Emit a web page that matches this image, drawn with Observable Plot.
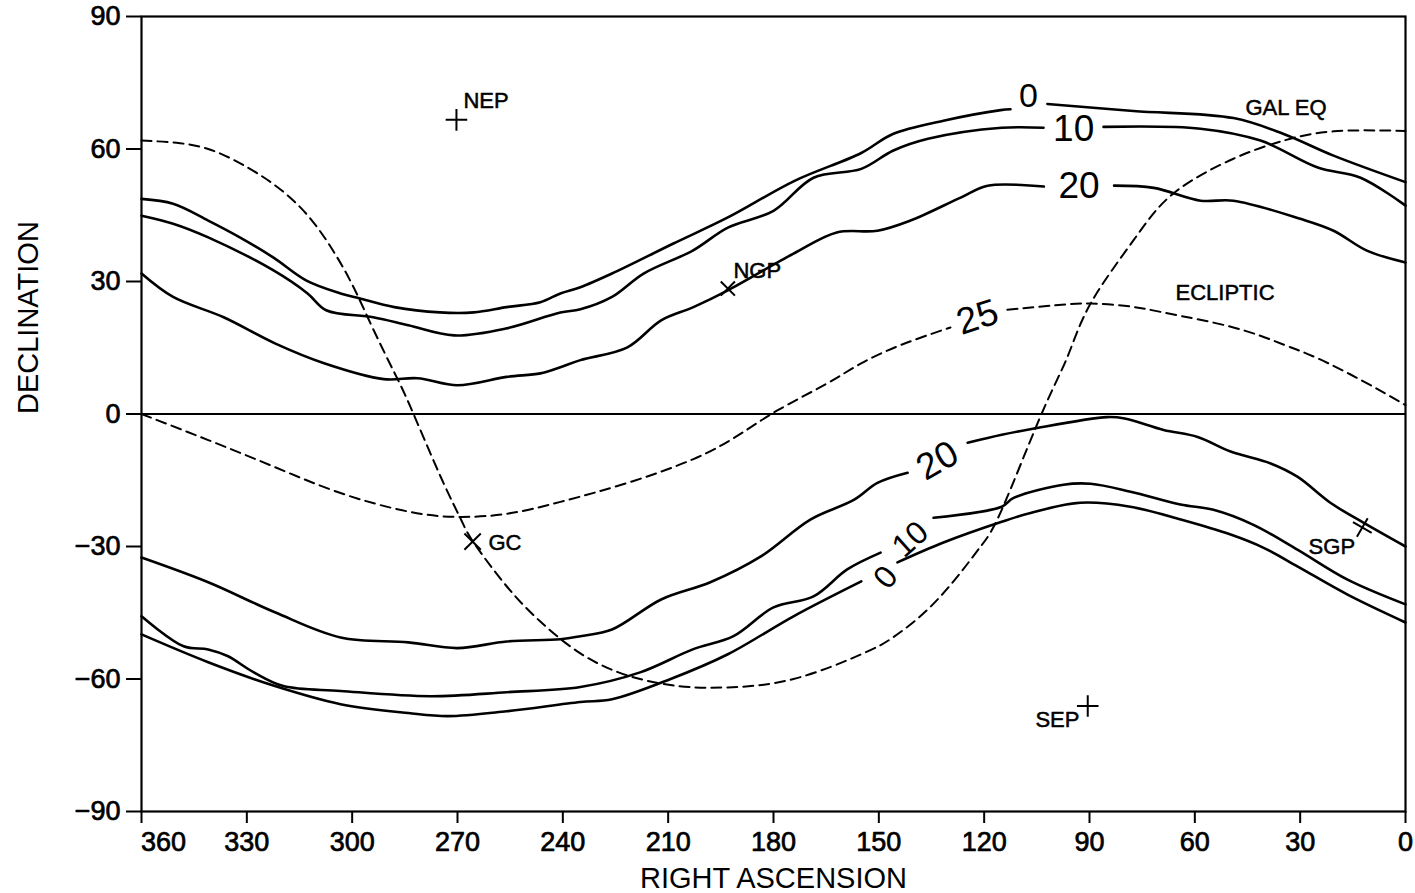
<!DOCTYPE html>
<html>
<head>
<meta charset="utf-8">
<script src="https://cdn.jsdelivr.net/npm/d3@7"></script>
<script src="https://cdn.jsdelivr.net/npm/@observablehq/plot@0.6"></script>
<style>
  html, body { margin: 0; padding: 0; background: #fff; }
  #chart { width: 1415px; height: 893px; }
</style>
</head>
<body>
<div id="chart"></div>
<script>
// ---- axis ticks ----
const raTicks = [360, 330, 300, 270, 240, 210, 180, 150, 120, 90, 60, 30, 0];
const decTicks = [90, 60, 30, 0, -30, -60, -90];

// ---- contour lines [RA, Dec]; NaN = gap where the label sits ----
const north0 = [[360,48.7],[351,47.6],[341,43.8],[332,40.0],[322.4,35.4],[313,30.2],[303.3,27.3],[298,26.2],[288,24.2],[275,23.0],[265.4,23.0],[256,24.2],[246.4,25.3],[240.7,27.3],[235,28.7],[226,31.8],[208.5,38.6],[193,44.5],[174,52.8],[155,59.1],[146,63.4],[131.6,66.4],[115.3,68.8],[112.5,69.0],[107,NaN],[102,70.2],[77.5,68.6],[49,67.0],[34.7,63.4],[20.5,58.5],[0,52.5]];
const north10 = [[360,44.9],[351,43.1],[341,40.0],[322.4,32.5],[312.7,27.3],[307.4,23.5],[294,21.9],[284,20.1],[271,17.8],[256,19.4],[240.7,23.0],[235,23.7],[226,26.5],[217,31.8],[203,37.0],[193,42.2],[180,46.0],[168.6,53.5],[155,55.5],[146,59.6],[136,62.3],[115,64.8],[103.1,64.8],[94.5,NaN],[86,65.0],[58.4,64.6],[41.3,61.9],[25,55.8],[12.8,53.5],[0,47.2]];
const north20 = [[360,31.8],[351,26.5],[336.6,21.9],[322,16.0],[308,11.5],[291,7.9],[281.4,8.1],[270,6.5],[256,8.4],[246.4,9.2],[240.7,10.6],[235,12.2],[221.6,15.1],[212,21.2],[202.8,24.2],[193,28.0],[174.3,36.3],[162,41.1],[150.4,41.5],[141,43.8],[126.7,49.0],[119,51.7],[103,51.5],[93,NaN],[83,51.7],[71.7,51.2],[58.4,48.3],[49,48.3],[30,44.2],[20.5,41.5],[11,37.0],[0,34.3]];
const south20 = [[360,-32.5],[341,-38.1],[322,-44.9],[303.3,-50.6],[284,-51.7],[270,-53.0],[256,-51.5],[240.7,-51.0],[235,-50.3],[226,-48.8],[212,-42.0],[198,-38.1],[183.7,-32.3],[169.5,-23.9],[157,-19.4],[150.4,-15.6],[141.8,-13.3],[133,NaN],[124.7,-6.5],[115,-4.7],[106.5,-3.4],[85,-0.7],[80,-1.0],[68.9,-3.6],[59.2,-5.2],[49.8,-8.5],[38.4,-11.2],[30.8,-14.2],[21.4,-20.1],[12,-24.6],[0,-30.0]];
const south10 = [[360,-45.8],[348,-52.6],[341,-53.3],[335.5,-54.8],[328,-58.5],[319.6,-61.6],[303.3,-62.7],[277.7,-63.9],[256,-63.0],[235,-61.8],[218,-58.5],[203,-53.3],[191.4,-50.3],[180,-43.8],[168.6,-41.3],[159,-35.2],[149.5,-31.4],[141,NaN],[134.4,-23.5],[115,-21.0],[111.6,-19.0],[97.4,-16.0],[89.7,-15.8],[78.3,-17.6],[64.1,-20.5],[54.7,-21.7],[43.3,-25.1],[30.8,-30.7],[16.5,-37.5],[0,-43.1]];
const south0 = [[360,-49.9],[341,-56.2],[322,-61.6],[303.3,-65.7],[284,-67.7],[272.8,-68.4],[256,-67.3],[235,-65.2],[226,-64.6],[209.3,-60.0],[193,-54.4],[174.3,-45.8],[155,-37.9],[149,NaN],[144.7,-33.6],[131.6,-29.1],[115,-24.4],[106.8,-22.4],[92.6,-20.1],[78.4,-21.0],[64,-23.9],[49.8,-27.3],[40.4,-30.3],[30.8,-34.5],[16.5,-40.9],[0,-47.2]];

// ---- dashed reference curves ----
const ecliptic = [[360,0],[341,-5.9],[322.4,-11.9],[303.3,-17.9],[284,-22.1],[270,-23.3],[256,-22.6],[240.7,-19.9],[221.6,-15.6],[202.8,-10.2],[190,-4.8],[178.9,0.8],[165,6.8],[155.2,11.4],[143.8,15.6],[129.6,19.6],[122,NaN],[113.4,23.6],[100,24.6],[89.7,25.0],[78,24.3],[67.8,22.8],[49,19.6],[35,15.8],[25,12.6],[12,7.4],[0,2.0]];
const galEq = [[360,61.9],[350,61.4],[341,60.0],[332,56.8],[322,51.8],[312.7,45.0],[305.3,36.8],[299.6,28.7],[294,19.2],[288,9.4],[283.4,1.6],[274.8,-14.2],[269,-23.9],[265.4,-29.1],[256,-39.0],[246.4,-47.0],[235,-54.2],[221.6,-59.2],[207,-61.6],[193,-61.9],[174.3,-60.0],[155,-54.4],[146,-50.6],[136,-44.2],[126.7,-35.9],[121,-30.0],[115,-21.7],[104,-0.6],[96.3,12.9],[89.7,25.0],[77.5,39.3],[66,50.0],[49,57.8],[34.7,61.9],[20.5,64.0],[0,64.1]];

// ---- contour value labels ----
const contourText = ["0", "10", "20", "25", "20", "10", "0"];
const contourRA   = [107.4, 94.5, 93, 121.9, 133.3, 141, 148];
const contourDec  = [72.0, 64.6, 51.7, 21.9, -10.6, -28.4, -37];
const contourRot  = [0, 0, 0, -18, -30, -42, -50];
const contourSize = [34, 37, 37, 37, 37, 32, 32];

// ---- marked points ----
const plusRA = [270.3, 90.5], plusDec = [66.6, -66.1];      // NEP, SEP
const ngpRA = [193], ngpDec = [28.4];                        // NGP
const gcRA = [265.7], gcDec = [-28.9];                       // GC
const sgpRA = [12.3], sgpDec = [-25.7];                      // SGP

// ---- point / curve names ----
const nameText = ["NEP", "NGP", "GC", "SGP", "SEP", "GAL EQ", "ECLIPTIC"];
const nameRA   = [268.3, 191.4, 261.2, 27.6, 105.4, 45.6, 65.5];
const nameDec  = [69.3, 30.9, -30.7, -31.8, -70.9, 67.7, 25.7];

const idx = (a) => a.map((_, i) => i);
const xy = { x: (d) => d[0], y: (d) => d[1] };

const chart = Plot.plot({
  width: 1415,
  height: 893,
  marginLeft: 141,
  marginRight: 10,
  marginTop: 16,
  marginBottom: 82,
  style: { fontFamily: "'Liberation Sans', Arial, sans-serif", background: "#fff", color: "#000" },
  x: { domain: [360, 0] },
  y: { domain: [-90, 90] },
  marks: [
    Plot.frame({ stroke: "#000", strokeWidth: 2.2 }),
    Plot.ruleY([0], { stroke: "#000", strokeWidth: 1.8 }),
    Plot.axisX({ ticks: raTicks, tickSize: 12, tickPadding: 8, fontSize: 27, strokeWidth: 2,
                 textStroke: "#000", textStrokeWidth: 0.7,
                 tickFormat: (d) => (d === 360 ? "" : String(d)), label: null }),
    Plot.text([raTicks[0]], { x: (d) => d, y: () => -90, text: (d) => String(d), lineAnchor: "top",
                              dy: 20, dx: 22, fontSize: 27, fill: "#000", stroke: "#000", strokeWidth: 0.7 }),
    Plot.axisY({ ticks: decTicks, tickSize: 15, tickPadding: 6, fontSize: 27, strokeWidth: 2,
                 textStroke: "#000", textStrokeWidth: 0.7, label: null }),
    Plot.text(["DECLINATION"], { frameAnchor: "left", text: (d) => d, rotate: -90, dx: -113, fontSize: 29 }),
    Plot.text(["RIGHT ASCENSION"], { frameAnchor: "bottom", text: (d) => d, lineAnchor: "bottom", dy: 76, fontSize: 29 }),

    // dashed curves
    Plot.line(ecliptic, { ...xy, curve: "natural", stroke: "#000", strokeWidth: 2, strokeDasharray: "10,6" }),
    Plot.line(galEq, { ...xy, curve: "natural", stroke: "#000", strokeWidth: 2, strokeDasharray: "10,6" }),

    // contour lines
    ...[north0, north10, north20, south20, south10, south0].map((arr) =>
      Plot.line(arr, { ...xy, curve: "catmull-rom", stroke: "#000", strokeWidth: 2.6 })
    ),

    // contour labels
    Plot.text(idx(contourText), {
      x: (i) => contourRA[i], y: (i) => contourDec[i], text: (i) => contourText[i],
      rotate: (i) => contourRot[i], fontSize: (i) => contourSize[i], fill: "#000"
    }),

    // markers
    Plot.dot(idx(plusRA), { x: (i) => plusRA[i], y: (i) => plusDec[i], symbol: "plus", r: 7, stroke: "#000", strokeWidth: 2 }),
    Plot.dot(idx(ngpRA), { x: (i) => ngpRA[i], y: (i) => ngpDec[i], symbol: "times", r: 6.5, stroke: "#000", strokeWidth: 2 }),
    Plot.dot(idx(gcRA), { x: (i) => gcRA[i], y: (i) => gcDec[i], symbol: "times", r: 7.5, stroke: "#000", strokeWidth: 2 }),
    Plot.dot(idx(sgpRA), { x: (i) => sgpRA[i], y: (i) => sgpDec[i], symbol: "plus", r: 7, rotate: 30, stroke: "#000", strokeWidth: 2 }),

    // names
    Plot.text(idx(nameText), {
      x: (i) => nameRA[i], y: (i) => nameDec[i], text: (i) => nameText[i],
      textAnchor: "start", lineAnchor: "bottom", fontSize: 22, fill: "#000",
      stroke: "#000", strokeWidth: 0.5
    })
  ]
});

document.getElementById("chart").appendChild(chart);
</script>
</body>
</html>
